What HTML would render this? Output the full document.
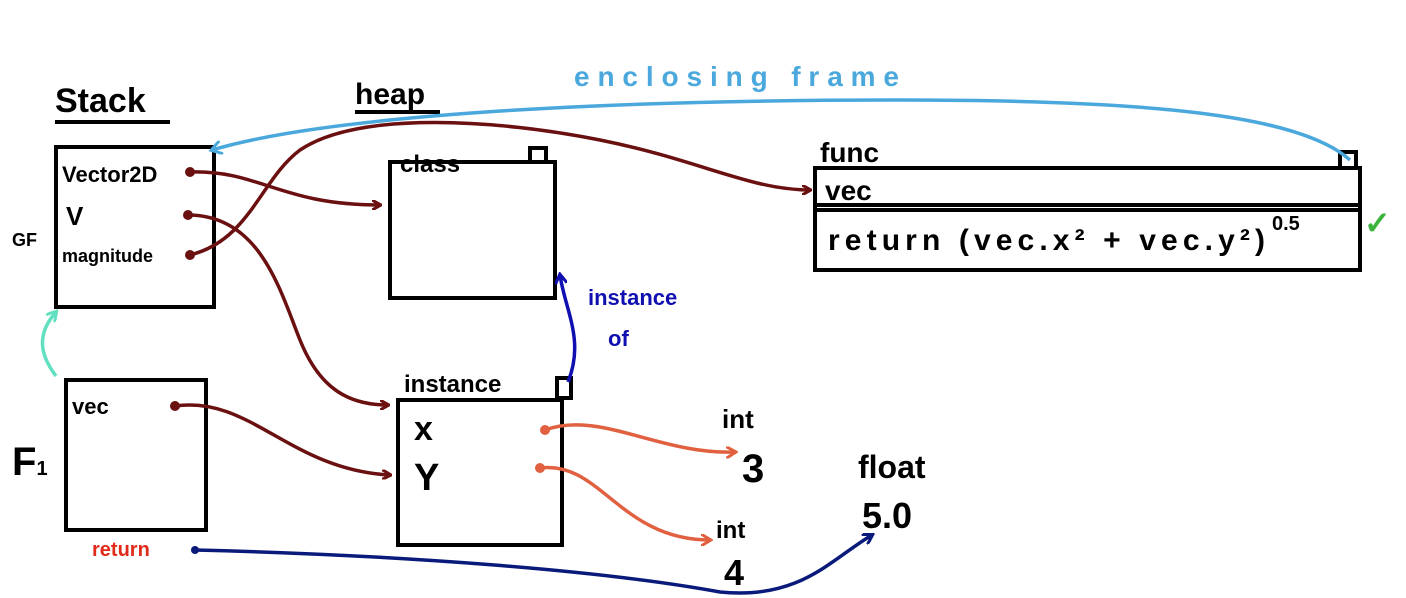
<!DOCTYPE html>
<html><head><meta charset="utf-8"><style>
html,body{margin:0;padding:0;background:#fff;}
svg{display:block;}
text{font-family:"Liberation Sans",sans-serif;font-weight:bold;}
</style></head><body>
<svg width="1406" height="598" viewBox="0 0 1406 598" xmlns="http://www.w3.org/2000/svg">
<defs>
<marker id="ar" markerWidth="10" markerHeight="10" refX="8" refY="5" orient="auto" markerUnits="userSpaceOnUse"><path d="M0,0 L9,5 L0,10" fill="none" stroke="#6b1010" stroke-width="3"/></marker>
<marker id="ao" markerWidth="12" markerHeight="12" refX="9" refY="6" orient="auto" markerUnits="userSpaceOnUse"><path d="M0,0 L10,6 L0,12" fill="none" stroke="#e06040" stroke-width="3"/></marker>
<marker id="an" markerWidth="12" markerHeight="12" refX="9" refY="6" orient="auto" markerUnits="userSpaceOnUse"><path d="M0,0 L10,6 L0,12" fill="none" stroke="#0a1a7a" stroke-width="3"/></marker>
<marker id="ab" markerWidth="12" markerHeight="12" refX="9" refY="6" orient="auto" markerUnits="userSpaceOnUse"><path d="M0,0 L10,6 L0,12" fill="none" stroke="#1010b0" stroke-width="3"/></marker>
<marker id="al" markerWidth="14" markerHeight="14" refX="10" refY="7" orient="auto" markerUnits="userSpaceOnUse"><path d="M0,0 L11,7 L0,14" fill="none" stroke="#4aa8dd" stroke-width="3"/></marker>
<marker id="ac" markerWidth="12" markerHeight="12" refX="9" refY="6" orient="auto" markerUnits="userSpaceOnUse"><path d="M0,0 L10,6 L0,12" fill="none" stroke="#60e0c0" stroke-width="3"/></marker>
</defs>
<g fill="none" stroke="#000" stroke-width="4">
<rect x="56" y="147" width="158" height="160"/>
<rect x="66" y="380" width="140" height="150"/>
<rect x="390" y="162" width="165" height="136"/>
<rect x="530" y="148" width="16" height="14"/>
<rect x="398" y="400" width="164" height="145"/>
<rect x="557" y="378" width="14" height="20"/>
<rect x="815" y="168" width="545" height="102"/>
<line x1="815" y1="205" x2="1360" y2="205"/>
<line x1="815" y1="210" x2="1360" y2="210"/>
<rect x="1340" y="152" width="16" height="16"/>
<line x1="55" y1="122" x2="170" y2="122"/>
<line x1="355" y1="112" x2="440" y2="112"/>
</g>
<g font-size="34" fill="#000">
<text x="55" y="112">Stack</text>
<text x="355" y="104" font-size="30">heap</text>
<text x="400" y="172" font-size="24">class</text>
<text x="404" y="392" font-size="24">instance</text>
<text x="820" y="162" font-size="28">func</text>
<text x="825" y="200" font-size="28">vec</text>
<text x="828" y="250" font-size="30" textLength="437" lengthAdjust="spacing">return  (vec.x² + vec.y²)</text>
<text x="1272" y="230" font-size="20">0.5</text>
<text x="62" y="182" font-size="22">Vector2D</text>
<text x="66" y="225" font-size="26">V</text>
<text x="62" y="262" font-size="18">magnitude</text>
<text x="12" y="246" font-size="18">GF</text>
<text x="72" y="414" font-size="22">vec</text>
<text x="12" y="475" font-size="40" font-weight="normal">F<tspan font-size="20">1</tspan></text>
<text x="414" y="440" font-size="34" font-weight="normal">x</text>
<text x="414" y="490" font-size="38" font-weight="normal">Y</text>
<text x="722" y="428" font-size="26">int</text>
<text x="742" y="482" font-size="40" font-weight="normal">3</text>
<text x="716" y="538" font-size="24">int</text>
<text x="724" y="585" font-size="36" font-weight="normal">4</text>
<text x="858" y="478" font-size="32">float</text>
<text x="862" y="528" font-size="36" font-weight="normal">5.0</text>
<text x="92" y="556" font-size="20" fill="#e02a1a">return</text>
<text x="574" y="86" font-size="28" fill="#4aa8dd" textLength="325" lengthAdjust="spacing">enclosing  frame</text>
<text x="588" y="305" font-size="22" fill="#1010b0">instance</text>
<text x="608" y="346" font-size="22" fill="#1010b0">of</text>
<text x="1364" y="234" font-size="32" fill="#3cb43c">✓</text>
</g>
<g fill="none" stroke-width="3.5">
<path d="M1350,160 C1300,115 1150,100 900,100 C600,100 330,115 212,150" stroke="#4aa8dd" marker-end="url(#al)"/>
<path d="M190,172 C260,170 280,205 380,205" stroke="#6b1010" marker-end="url(#ar)"/>
<path d="M188,215 C260,215 280,290 300,340 C320,390 350,405 388,405" stroke="#6b1010" marker-end="url(#ar)"/>
<path d="M190,255 C250,240 260,180 300,150 C360,110 500,120 600,140 C700,160 750,190 810,190" stroke="#6b1010" marker-end="url(#ar)"/>
<path d="M175,406 C250,395 290,470 390,475" stroke="#6b1010" marker-end="url(#ar)"/>
<path d="M545,430 C600,410 660,455 735,452" stroke="#e06040" marker-end="url(#ao)"/>
<path d="M540,468 C600,460 620,540 710,540" stroke="#e06040" marker-end="url(#ao)"/>
<path d="M195,550 C400,555 600,570 720,592 C800,600 830,560 872,535" stroke="#0a1a7a" marker-end="url(#an)"/>
<path d="M568,382 C585,340 565,310 560,275" stroke="#1010b0" marker-end="url(#ab)"/>
<path d="M56,376 C36,350 40,330 56,312" stroke="#60e0c0" marker-end="url(#ac)"/>
</g>
<g fill="#6b1010"><circle cx="190" cy="172" r="5"/><circle cx="188" cy="215" r="5"/><circle cx="190" cy="255" r="5"/><circle cx="175" cy="406" r="5"/></g>
<g fill="#e06040"><circle cx="545" cy="430" r="5"/><circle cx="540" cy="468" r="5"/></g>
<circle cx="195" cy="550" r="4" fill="#0a1a7a"/>
</svg>
</body></html>
